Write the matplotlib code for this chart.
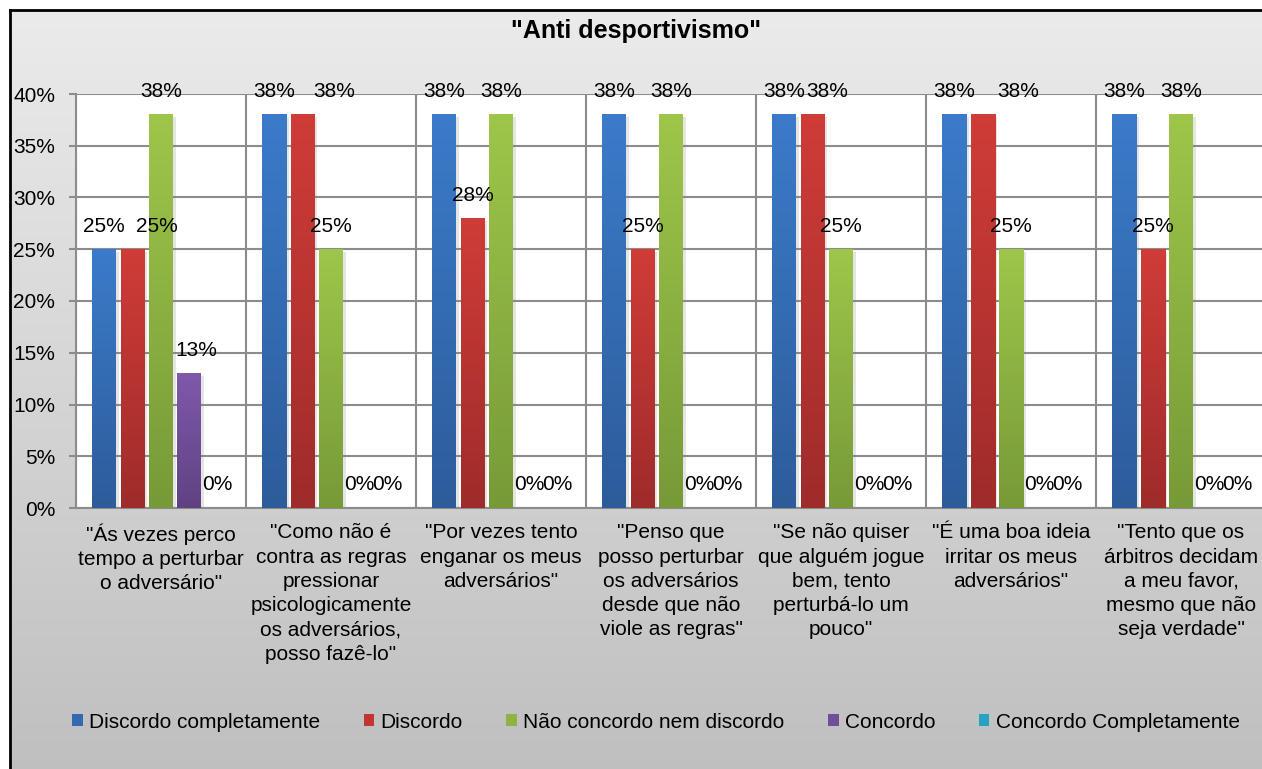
import numpy as np
import matplotlib
matplotlib.use("Agg")
import matplotlib.pyplot as plt
from matplotlib.patches import Patch
from matplotlib.lines import Line2D
import matplotlib.patheffects as pe


# ----------------------------
# Data
# ----------------------------
CATEGORIES = [
    '"Ás vezes perco\ntempo a perturbar\no adversário"',
    '"Como não é\ncontra as regras\npressionar\npsicologicamente\nos adversários,\nposso fazê-lo"',
    '"Por vezes tento\nenganar os meus\nadversários"',
    '"Penso que\nposso perturbar\nos adversários\ndesde que não\nviole as regras"',
    '"Se não quiser\nque alguém jogue\nbem, tento\nperturbá-lo um\npouco"',
    '"É uma boa ideia\nirritar os meus\nadversários"',
    '"Tento que os\nárbitros decidam\na meu favor,\nmesmo que não\nseja verdade"',
]
SERIES = ["Discordo completamente", "Discordo", "Não concordo nem discordo",
          "Concordo", "Concordo Completamente"]
DISCORDO_COMPLETAMENTE = [25, 38, 38, 38, 38, 38, 38]
DISCORDO = [25, 38, 28, 25, 38, 38, 25]
NEUTRO = [38, 25, 38, 38, 25, 25, 38]
CONCORDO = [13, 0, 0, 0, 0, 0, 0]
CONCORDO_COMPLETAMENTE = [0, 0, 0, 0, 0, 0, 0]
VALUES = [DISCORDO_COMPLETAMENTE, DISCORDO, NEUTRO, CONCORDO, CONCORDO_COMPLETAMENTE]
Y_TICKS = [0, 5, 10, 15, 20, 25, 30, 35, 40]

# ----------------------------
# Style
# ----------------------------
TOP_COLORS = ["#3b7bca", "#d03c38", "#9ec64a", "#8059aa", "#2bb5d8"]
BOT_COLORS = ["#2d5c9a", "#9e2c2a", "#779a38", "#5f4283", "#1f8fab"]
LEGEND_COLORS = ["#3468b0", "#c03633", "#8db442", "#704e98", "#27a3c2"]
# horizontal nudges (pixels) of the data labels, as placed in the original
LABEL_SHIFT = {1: [24, 32, 0, 0, 15, 36, 0], 3: [7, 0, 0, 0, 0, 0, 0]}

W, H, DPI = 1262, 769, 100
FONT = ["Liberation Sans", "DejaVu Sans"]
plt.rcParams["font.family"] = FONT

fig = plt.figure(figsize=(W / DPI, H / DPI), dpi=DPI)

# chart-area background gradient with border
bg = fig.add_axes([10 / W, -0.01, 1.02, 1.01 - 10 / H])
bg.set_axis_off()
grad = np.linspace(0, 1, 256)[:, None]
cmap_bg = matplotlib.colors.LinearSegmentedColormap.from_list("bg", ["#ebebeb", "#bfbfbf"])
bg.imshow(grad, aspect="auto", cmap=cmap_bg, extent=[0, 1, 0, 1], interpolation="bilinear")
fig.add_artist(Line2D([10 / W, 10 / W], [0, 1 - 10 / H], color="black", lw=2))
fig.add_artist(Line2D([10 / W, 1.01], [1 - 10 / H, 1 - 10 / H], color="black", lw=2))

# plot area
ax = fig.add_axes([76 / W, 1 - 508 / H, 1190 / W, 414 / H])
ax.set_facecolor("white")

n = len(SERIES)
slot = 28.4 / 170
bw = 24 / 170
x = np.arange(len(CATEGORIES))

for i, vals in enumerate(VALUES):
    xs = x + (i - (n - 1) / 2) * slot
    bars = ax.bar(xs, vals, width=bw, color=LEGEND_COLORS[i], zorder=2, linewidth=0,
                  path_effects=[pe.SimplePatchShadow(offset=(2, -2), shadow_rgbFace="#808080",
                                                     alpha=0.2), pe.Normal()])
    cmap = matplotlib.colors.LinearSegmentedColormap.from_list(
        f"s{i}", [TOP_COLORS[i], BOT_COLORS[i]])
    for b, v in zip(bars, vals):
        if v <= 0:
            continue
        x0 = b.get_x()
        ax.imshow(grad, aspect="auto", cmap=cmap, extent=[x0, x0 + bw, 0, v],
                  zorder=3, interpolation="bilinear")
    shifts = LABEL_SHIFT.get(i, [0] * len(vals))
    for xv, v, dx in zip(xs, vals, shifts):
        ax.annotate(f"{v}%", (xv, v), xytext=(dx, 23), textcoords="offset pixels",
                    ha="center", va="center", fontsize=15, color="black", zorder=5,
                    annotation_clip=False)

ax.set_xlim(-0.5, len(CATEGORIES) - 0.5)
ax.set_ylim(0, 40)

# gridlines
ax.set_axisbelow(True)
ax.set_yticks(Y_TICKS)
ax.set_yticklabels([f"{t}%" for t in Y_TICKS], fontsize=15)
ax.yaxis.grid(True, color="#8c8c8c", lw=1.5)
ax.set_xticks(x)
ax.set_xticklabels(CATEGORIES, fontsize=15, linespacing=1.35, va="top")
ax.set_xticks(np.arange(-0.5, len(CATEGORIES), 1), minor=True)
ax.xaxis.grid(True, which="minor", color="#8c8c8c", lw=1.5)
ax.tick_params(axis="x", which="both", length=0, pad=11)
ax.tick_params(axis="y", length=5, color="#8c8c8c", width=1.5, pad=10)
for s in ["top", "right"]:
    ax.spines[s].set_visible(False)
for s in ["left", "bottom"]:
    ax.spines[s].set_color("#8c8c8c")
    ax.spines[s].set_linewidth(1.5)

# title
fig.text(636 / W, 1 - 31 / H, '"Anti desportivismo"', ha="center", va="center",
         fontsize=18, fontweight="bold")

# legend
handles = [Patch(facecolor=c, edgecolor="none") for c in LEGEND_COLORS]
fig.legend(handles, SERIES, loc="center", bbox_to_anchor=(656 / W, 1 - 722 / H),
           ncol=5, frameon=False, fontsize=15, handlelength=0.5, handleheight=0.55,
           handletextpad=0.3, columnspacing=2.1)

fig.savefig("out.png", dpi=DPI)
